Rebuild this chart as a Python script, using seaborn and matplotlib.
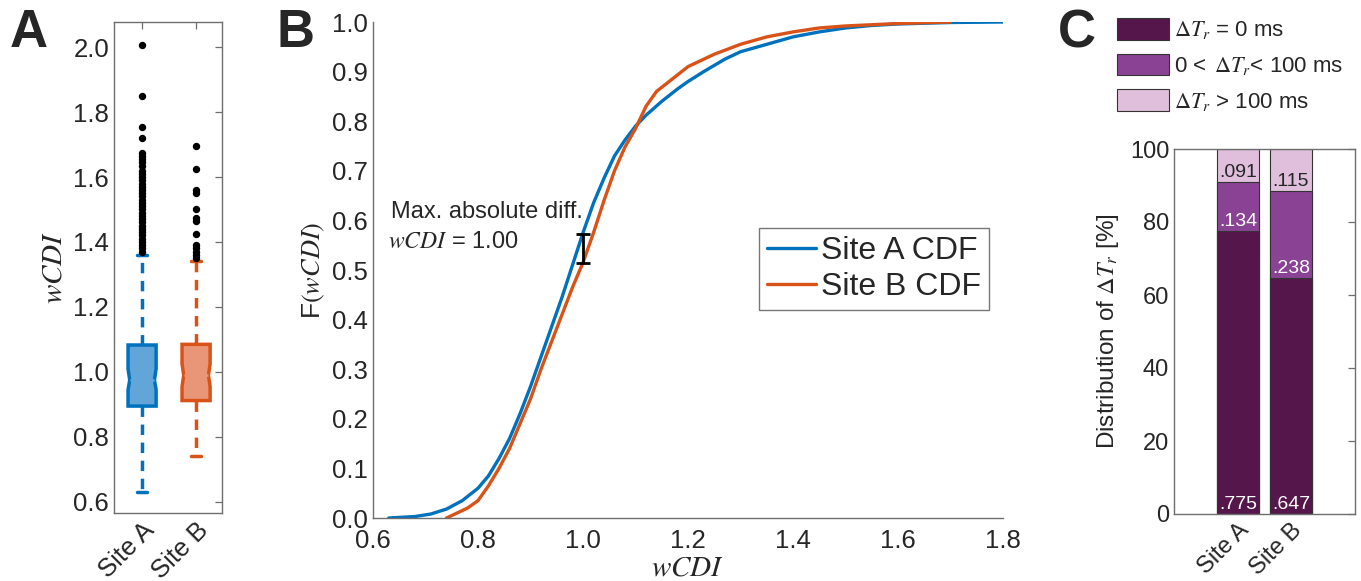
import numpy as np
import matplotlib
matplotlib.use("Agg")
import matplotlib.pyplot as plt
from matplotlib.patches import Patch
import seaborn as sns

sns.set_style("white")
plt.rcParams['font.family'] = ['Liberation Sans', 'DejaVu Sans']
plt.rcParams['mathtext.fontset'] = 'stix'

# ---- data -------------------------------------------------------------
sites = ['Site A', 'Site B']

# panel A : box summary
box_q1 = [0.895, 0.912]
box_med = [0.975, 0.990]
box_q3 = [1.083, 1.085]
box_lo = [0.630, 0.740]
box_hi = [1.360, 1.340]
box_cilo = [0.945, 0.955]
box_cihi = [1.010, 1.025]
fliers_a = [1.37, 1.38, 1.39, 1.40, 1.41, 1.42, 1.43, 1.44, 1.45, 1.46, 1.47,
            1.48, 1.49, 1.50, 1.51, 1.52, 1.53, 1.54, 1.55, 1.56, 1.57, 1.58,
            1.59, 1.60, 1.61, 1.62, 1.635, 1.645, 1.655, 1.665, 1.675, 1.72,
            1.755, 1.85, 2.005]
fliers_b = [1.35, 1.36, 1.37, 1.38, 1.39, 1.425, 1.465, 1.475, 1.50, 1.55,
            1.56, 1.625, 1.695]

# panel B : empirical CDFs
cdf_x_a = [0.63, 0.68, 0.71, 0.74, 0.77, 0.80, 0.82, 0.84, 0.86, 0.88, 0.90,
           0.92, 0.94, 0.96, 0.98, 1.00, 1.02, 1.04, 1.06, 1.08, 1.10, 1.12,
           1.15, 1.18, 1.20, 1.23, 1.27, 1.30, 1.35, 1.40, 1.45, 1.50, 1.55,
           1.60, 1.70, 1.80]
cdf_f_a = [0.000, 0.003, 0.008, 0.018, 0.035, 0.060, 0.085, 0.120, 0.160,
           0.210, 0.265, 0.325, 0.385, 0.445, 0.510, 0.575, 0.635, 0.685,
           0.730, 0.762, 0.790, 0.812, 0.840, 0.865, 0.880, 0.900, 0.925,
           0.940, 0.955, 0.970, 0.980, 0.988, 0.993, 0.996, 0.999, 1.000]
cdf_x_b = [0.74, 0.76, 0.78, 0.80, 0.82, 0.84, 0.86, 0.88, 0.90, 0.92, 0.94,
           0.96, 0.98, 1.00, 1.02, 1.04, 1.06, 1.08, 1.10, 1.12, 1.14, 1.17,
           1.20, 1.25, 1.30, 1.35, 1.40, 1.45, 1.50, 1.60, 1.70]
cdf_f_b = [0.000, 0.010, 0.020, 0.035, 0.065, 0.100, 0.140, 0.190, 0.240,
           0.300, 0.355, 0.410, 0.465, 0.515, 0.575, 0.640, 0.700, 0.748,
           0.785, 0.830, 0.860, 0.885, 0.910, 0.935, 0.955, 0.970, 0.980,
           0.988, 0.992, 0.997, 1.000]
ks_x = 1.00
ks_lo = 0.514
ks_hi = 0.573

# panel C : fractions of delta T_r classes
frac_zero = [0.775, 0.647]
frac_mid = [0.134, 0.238]
frac_high = [0.091, 0.115]
class_labels = [r'$\Delta T_r$ = 0 ms', r'0 < $\,\Delta T_r$< 100 ms',
                r'$\Delta T_r$ > 100 ms']

# ---- style ------------------------------------------------------------
blue, orange = '#0072BD', '#D95319'
blue_face, orange_face = '#62a6d9', '#e89677'
purples = ['#55164c', '#8a4394', '#e0bfdc']
axis_col = '#6e6e6e'
tick_col = '#262626'

W, H = 1361, 581
fig = plt.figure(figsize=(W / 100, H / 100), dpi=100)


def px_axes(l, t, r, b):
    return fig.add_axes([l / W, 1 - b / H, (r - l) / W, (b - t) / H])


def style_axes(ax, fs):
    for s in ax.spines.values():
        s.set_color(axis_col)
        s.set_linewidth(1.0)
    ax.tick_params(direction='in', length=5, width=0.9, color=axis_col,
                   labelsize=fs, labelcolor=tick_col)


# ---- panel A ----------------------------------------------------------
axA = px_axes(114, 22, 222, 513)
w = 0.52
stats = []
for i in range(2):
    stats.append(dict(med=box_med[i], q1=box_q1[i], q3=box_q3[i],
                      whislo=box_lo[i], whishi=box_hi[i],
                      cilo=box_cilo[i], cihi=box_cihi[i],
                      fliers=[fliers_a, fliers_b][i]))
bp = axA.bxp(stats, positions=[1, 2], widths=w, shownotches=True,
             patch_artist=True, capwidths=0.2)
for i, (ec, fc) in enumerate([(blue, blue_face), (orange, orange_face)]):
    box = bp['boxes'][i]
    box.set_facecolor(fc)
    box.set_edgecolor(ec)
    box.set_linewidth(2.5)
    p = i + 1
    v = box.get_path().vertices
    v[np.isclose(v[:, 0], p - w * 0.25), 0] = p - w * 0.44
    v[np.isclose(v[:, 0], p + w * 0.25), 0] = p + w * 0.44
    bp['medians'][i].set_xdata([p - w * 0.44, p + w * 0.44])
    bp['medians'][i].set_color(fc)
    bp['medians'][i].set_linewidth(2)
    for wl in bp['whiskers'][2 * i:2 * i + 2]:
        wl.set_color(ec)
        wl.set_linewidth(2.5)
        wl.set_linestyle((0, (3, 2.2)))
    for c in bp['caps'][2 * i:2 * i + 2]:
        c.set_color(ec)
        c.set_linewidth(2.5)
    bp['fliers'][i].set(marker='o', markerfacecolor='black',
                        markeredgecolor='black', markersize=4.3)
axA.set_xlim(0.48, 2.48)
axA.set_ylim(0.566, 2.077)
axA.set_yticks(np.arange(0.6, 2.01, 0.2))
axA.set_yticklabels([f'{t:.1f}' for t in np.arange(0.6, 2.01, 0.2)])
axA.set_xticks([1, 2])
axA.set_xticklabels(sites, rotation=45, ha='right', rotation_mode='anchor')
style_axes(axA, 18.5)
axA.tick_params(top=True, right=True)
axA.set_ylabel(r'$wCDI$', fontsize=21, labelpad=4)

# ---- panel B ----------------------------------------------------------
axB = px_axes(373, 22, 1003, 518)
sns.lineplot(x=cdf_x_a, y=cdf_f_a, ax=axB, color=blue, lw=2.4,
             sort=False, estimator=None, label='Site A CDF')
sns.lineplot(x=cdf_x_b, y=cdf_f_b, ax=axB, color=orange, lw=2.4,
             sort=False, estimator=None, label='Site B CDF')
axB.errorbar([ks_x], [(ks_lo + ks_hi) / 2], yerr=[(ks_hi - ks_lo) / 2],
             color='black', lw=2, capsize=5, capthick=2)
axB.text(0.634, 0.617, 'Max. absolute diff.', fontsize=17, va='center')
axB.text(0.628, 0.556, r'$wCDI$ = 1.00', fontsize=17, va='center')
axB.set_xlim(0.6, 1.8)
axB.set_ylim(0, 1)
axB.set_xticks(np.arange(0.6, 1.81, 0.2))
axB.set_xticklabels([f'{t:.1f}' for t in np.arange(0.6, 1.81, 0.2)])
axB.set_yticks(np.arange(0, 1.01, 0.1))
axB.set_yticklabels([f'{t:.1f}' for t in np.arange(0, 1.01, 0.1)])
sns.despine(ax=axB)
style_axes(axB, 18.5)
axB.tick_params(axis='x', pad=8)
axB.set_xlabel(r'$wCDI$', fontsize=21, labelpad=0)
axB.set_ylabel('F' + r'$(wCDI)$', fontsize=19, labelpad=4)
leg = axB.legend(loc='upper right',
                 bbox_to_anchor=((989 - 373) / 630, (518 - 228) / 496),
                 borderaxespad=0, fontsize=23, frameon=True, fancybox=False,
                 handlelength=1.55, handletextpad=0.15, borderpad=0.25,
                 labelspacing=0.2)
leg.get_frame().set_edgecolor('#555555')
leg.get_frame().set_linewidth(1.0)

# ---- panel C ----------------------------------------------------------
axC = px_axes(1174, 149, 1355, 514)
segments = [frac_zero, frac_mid, frac_high]
cum = [np.cumsum(segments, axis=0)[k] * 100 for k in range(3)]
for k in [2, 1, 0]:
    sns.barplot(x=sites, y=cum[k], color=purples[k], saturation=1,
                width=0.79, edgecolor='#333333', linewidth=0.8, ax=axC)
text_cols = ['white', 'white', '#262626']
for k in range(3):
    base = cum[k - 1] if k > 0 else np.zeros(2)
    for i in range(2):
        axC.text(i, base[i] + 0.3, f'{segments[k][i]:.3f}'.lstrip('0'),
                 ha='center', va='bottom', fontsize=14, color=text_cols[k])
axC.set_xlim(-1.21, 2.21)
axC.set_ylim(0, 100)
axC.set_yticks(range(0, 101, 20))
axC.set_xticks([0, 1])
axC.set_xticklabels(sites, rotation=45, ha='right', rotation_mode='anchor')
style_axes(axC, 17)
axC.tick_params(top=True, right=True)
axC.set_ylabel(r'Distribution of $\Delta T_r$ [%]', fontsize=17.5, labelpad=6)
handles = [Patch(facecolor=c, edgecolor='#333333', linewidth=0.8)
           for c in purples]
fig.legend(handles, class_labels, loc='upper left',
           bbox_to_anchor=(1117 / W, 1 - 18 / H), frameon=False, fontsize=16,
           handlelength=2.35, handleheight=1.13, handletextpad=0.2,
           labelspacing=0.55, borderpad=0, borderaxespad=0)

# ---- panel letters ----------------------------------------------------
for letter, x in [('A', 10), ('B', 277), ('C', 1058)]:
    fig.text(x / W, 1 - 8 / H, letter, fontsize=38, fontweight='bold',
             va='top', ha='left')

fig.savefig('out.png', dpi=100)
